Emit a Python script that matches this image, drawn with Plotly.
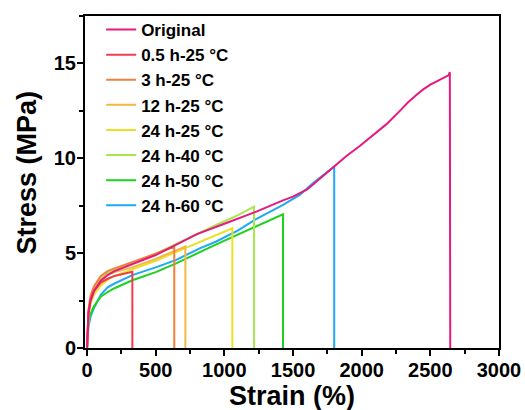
import plotly.graph_objects as go

# Tensile curves: strain (%) and stress (MPa); each ends with the drop at break
names = ["Original", "0.5 h-25 °C", "3 h-25 °C", "12 h-25 °C",
         "24 h-25 °C", "24 h-40 °C", "24 h-50 °C", "24 h-60 °C"]
colors = ["#E5197F", "#EE3D4B", "#F0813A", "#F2B746",
          "#ECE024", "#A8E64E", "#1FD11F", "#1FA9F0"]

strain_original = [0, 3, 10, 25, 50, 100, 150, 200, 330, 500, 650, 800, 1000,
                   1233, 1427, 1500, 1549, 1600, 1646, 1700, 1750, 1800, 1889,
                   1986, 2108, 2181, 2278, 2338, 2400, 2448, 2500, 2569, 2610,
                   2632, 2642, 2645]
stress_original = [0, 0.9, 1.8, 2.5, 3.0, 3.55, 3.85, 4.05, 4.42, 4.9, 5.45,
                   6.0, 6.55, 7.19, 7.78, 7.98, 8.16, 8.35, 8.62, 8.95, 9.28,
                   9.6, 10.12, 10.65, 11.35, 11.8, 12.5, 12.95, 13.35, 13.63,
                   13.88, 14.15, 14.3, 14.37, 14.54, 0]

strain_05h25 = [0, 3, 10, 25, 50, 100, 150, 200, 270, 330, 330]
stress_05h25 = [0, 0.9, 1.8, 2.5, 3.0, 3.45, 3.65, 3.8, 3.92, 4.02, 0]

strain_3h25 = [0, 3, 10, 25, 50, 100, 150, 200, 330, 500, 635, 635]
stress_3h25 = [0, 1.0, 2.0, 2.75, 3.25, 3.8, 4.05, 4.2, 4.52, 4.97, 5.35, 0]

strain_12h25 = [0, 3, 10, 25, 50, 100, 150, 200, 330, 500, 716, 716]
stress_12h25 = [0, 0.95, 1.9, 2.6, 3.1, 3.6, 3.85, 4.0, 4.25, 4.7, 5.35, 0]

strain_24h25 = [0, 3, 10, 25, 50, 100, 150, 200, 330, 500, 645, 937, 1058, 1058]
stress_24h25 = [0, 0.8, 1.6, 2.3, 2.8, 3.3, 3.6, 3.8, 4.15, 4.6, 5.05, 5.95,
                6.31, 0]

strain_24h40 = [0, 3, 10, 25, 50, 100, 150, 200, 330, 500, 700, 937, 1100,
                1216, 1216]
stress_24h40 = [0, 0.95, 1.9, 2.6, 3.1, 3.65, 3.95, 4.12, 4.47, 4.97, 5.67,
                6.47, 7.0, 7.45, 0]

strain_24h50 = [0, 3, 10, 25, 50, 100, 150, 200, 330, 500, 645, 937, 1200,
                1427, 1427]
stress_24h50 = [0, 0.6, 1.3, 1.8, 2.2, 2.7, 2.95, 3.15, 3.57, 4.0, 4.45, 5.45,
                6.3, 7.05, 0]

strain_24h60 = [0, 3, 10, 25, 50, 100, 150, 200, 330, 500, 645, 820, 937,
                1100, 1221, 1427, 1549, 1646, 1767, 1800, 1800]
stress_24h60 = [0, 0.5, 1.1, 1.65, 2.1, 2.8, 3.2, 3.4, 3.84, 4.25, 4.63, 5.25,
                5.6, 6.2, 6.75, 7.54, 8.07, 8.69, 9.39, 9.57, 0]

strains = [strain_original, strain_05h25, strain_3h25, strain_12h25,
           strain_24h25, strain_24h40, strain_24h50, strain_24h60]
stresses = [stress_original, stress_05h25, stress_3h25, stress_12h25,
            stress_24h25, stress_24h40, stress_24h50, stress_24h60]

font_family = "Arial, Liberation Sans, sans-serif"

fig = go.Figure()
# Draw in reverse so the Original curve sits on top
for name, color, xs, ys in reversed(list(zip(names, colors, strains, stresses))):
    fig.add_trace(go.Scatter(
        x=xs, y=ys, mode="lines", name=name,
        line=dict(color=color, width=2),
    ))

axis_common = dict(
    showline=True, linecolor="black", linewidth=2, mirror=True,
    ticks="outside", ticklen=6, tickwidth=2, tickcolor="black",
    showgrid=False, zeroline=False, automargin=False,
    ticklabelstandoff=-3,
    tickfont=dict(family=font_family, size=20, color="black", weight="bold"),
)

fig.update_xaxes(
    range=[-15, 3000], tick0=0, dtick=500,
    minor=dict(dtick=250, ticks="outside", ticklen=4, tickwidth=2,
               tickcolor="black"),
    **axis_common,
)
fig.update_yaxes(
    range=[0, 17.5], tick0=0, dtick=5,
    minor=dict(dtick=2.5, ticks="outside", ticklen=4, tickwidth=2,
               tickcolor="black"),
    **axis_common,
)

# Axis titles placed in paper coordinates
title_font = dict(family=font_family, size=27, color="black", weight="bold")
fig.add_annotation(text="Strain (%)", xref="paper", yref="paper",
                   x=0.501, y=-0.144, xanchor="center", yanchor="middle",
                   borderpad=0, showarrow=False, font=title_font)
fig.add_annotation(text="Stress (MPa)", xref="paper", yref="paper",
                   x=-0.1425, y=0.5286, xanchor="center", yanchor="middle",
                   borderpad=0, textangle=-90, showarrow=False, font=title_font)

fig.update_layout(
    width=525, height=410,
    margin=dict(l=85, r=26, t=16, b=62),
    plot_bgcolor="white", paper_bgcolor="white",
    showlegend=True,
    legend=dict(
        traceorder="reversed",
        x=0.039, y=1.012, xanchor="left", yanchor="top",
        bgcolor="rgba(0,0,0,0)", borderwidth=0,
        font=dict(family=font_family, size=17, color="black", weight="bold"),
        tracegroupgap=0, maxheight=400,
    ),
)

fig.write_html("out.html")
